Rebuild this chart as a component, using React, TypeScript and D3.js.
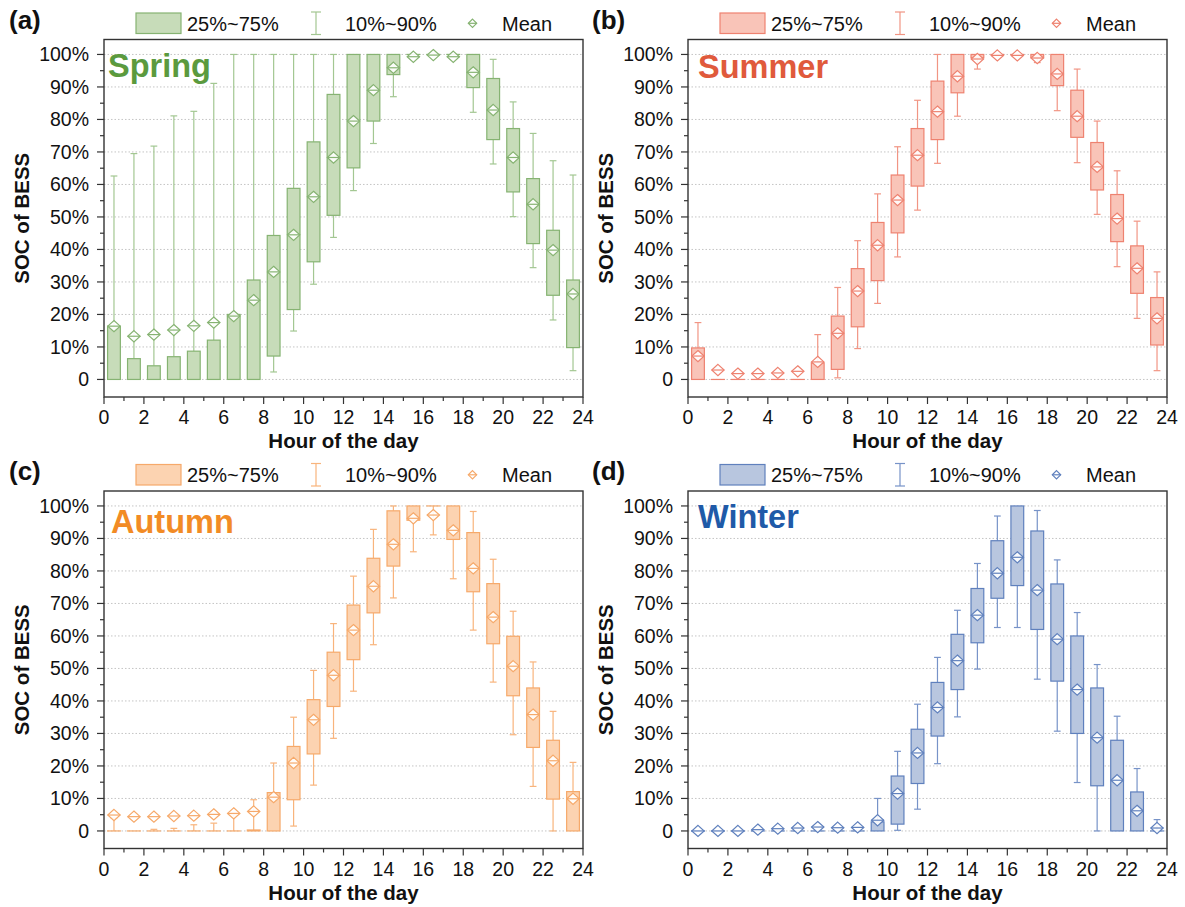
import React from "react";
import * as d3 from "d3";

// Hour-of-day bin centres
const hours = [0.5, 1.5, 2.5, 3.5, 4.5, 5.5, 6.5, 7.5, 8.5, 9.5, 10.5, 11.5, 12.5, 13.5, 14.5, 15.5, 16.5, 17.5, 18.5, 19.5, 20.5, 21.5, 22.5, 23.5];

const yTicks = [0, 10, 20, 30, 40, 50, 60, 70, 80, 90, 100];
const xTicks = [0, 2, 4, 6, 8, 10, 12, 14, 16, 18, 20, 22, 24];

// Spring SOC statistics (%)
const springP10 = [0, 0, 0, 0, 0, 0, 0, 0, 2.3, 14.9, 29.3, 43.7, 58.1, 72.6, 87.0, 100, 100, 100, 82.2, 66.3, 50.1, 34.4, 18.3, 2.7];
const springQ1 = [0, 0, 0, 0, 0, 0, 0, 0, 7.2, 21.5, 36.2, 50.5, 65.1, 79.5, 93.8, 100, 100, 100, 89.8, 73.8, 57.7, 41.8, 25.9, 9.8];
const springQ3 = [16.4, 6.4, 4.2, 7.0, 8.7, 12.1, 20.0, 30.6, 44.3, 58.8, 73.1, 87.7, 100, 100, 100, 100, 100, 100, 100, 92.6, 77.2, 61.8, 45.9, 30.6];
const springP90 = [62.6, 69.5, 71.8, 81.1, 82.5, 91.1, 100, 100, 100, 100, 100, 100, 100, 100, 100, 100, 100, 100, 100, 98.5, 85.4, 75.7, 67.3, 62.9];
const springMean = [16.4, 13.3, 13.8, 15.2, 16.5, 17.5, 19.5, 24.4, 33.1, 44.5, 56.2, 68.3, 79.5, 89.0, 95.9, 99.3, 99.8, 99.3, 94.5, 82.9, 68.3, 53.9, 39.8, 26.3];

// Summer SOC statistics (%)
const summerP10 = [0, 0, 0, 0, 0, 0, 0, 0.5, 9.5, 23.4, 37.7, 52.1, 66.5, 81.0, 95.5, 100, 100, 97.5, 82.7, 66.7, 50.8, 34.7, 18.8, 2.7];
const summerQ1 = [0, 0, 0, 0, 0, 0, 0, 3.1, 16.2, 30.4, 45.1, 59.5, 73.8, 88.2, 99.0, 100, 100, 99.0, 90.4, 74.5, 58.3, 42.4, 26.5, 10.6];
const summerQ3 = [9.7, 0, 0, 0, 0, 0, 5.1, 19.5, 34.1, 48.3, 62.9, 77.2, 91.8, 100, 100, 100, 100, 100, 100, 89.0, 72.9, 56.9, 41.1, 25.2];
const summerP90 = [17.5, 0, 0, 0, 0, 0, 13.8, 28.3, 42.7, 57.1, 71.6, 85.9, 100, 100, 100, 100, 100, 100, 100, 95.5, 79.5, 64.2, 48.7, 33.1];
const summerMean = [7.2, 2.9, 1.8, 1.8, 2.0, 2.5, 5.4, 14.2, 27.2, 41.3, 55.2, 69.0, 82.4, 93.3, 98.6, 99.7, 99.7, 98.9, 94.0, 81.0, 65.4, 49.5, 34.2, 18.8];

// Autumn SOC statistics (%)
const autumnP10 = [0, 0, 0, 0, 0, 0, 0, 0, 0, 1.5, 14.1, 28.5, 43.0, 57.3, 71.7, 85.9, 91.1, 77.6, 61.8, 45.8, 29.6, 13.7, 0, 0];
const autumnQ1 = [0, 0, 0, 0, 0, 0, 0, 0, 0, 9.6, 23.7, 38.3, 52.7, 67.1, 81.5, 95.6, 100, 89.7, 73.6, 57.6, 41.6, 25.7, 9.8, 0];
const autumnQ3 = [0, 0, 0, 0, 0, 0, 0, 0.3, 11.8, 26.0, 40.4, 55.0, 69.5, 83.9, 98.5, 100, 100, 100, 91.8, 76.1, 59.9, 44.0, 27.9, 12.1];
const autumnP90 = [4.0, 0, 0.5, 0.8, 1.9, 2.4, 5.0, 9.6, 20.9, 35.0, 49.4, 63.8, 78.4, 92.8, 100, 100, 100, 100, 98.3, 83.6, 67.6, 52.0, 36.8, 21.1];
const autumnMean = [4.9, 4.4, 4.4, 4.6, 4.7, 5.1, 5.4, 6.0, 10.4, 20.9, 34.2, 47.9, 61.8, 75.3, 88.2, 96.2, 97.2, 92.5, 80.8, 65.8, 50.7, 35.8, 21.6, 9.9];

// Winter SOC statistics (%)
const winterP10 = [0, 0, 0, 0, 0, 0, 0, 0, 0, 0, 0.2, 6.7, 20.7, 35.1, 49.8, 62.6, 62.6, 46.7, 30.7, 14.9, 0, 0, 0, 0];
const winterQ1 = [0, 0, 0, 0, 0, 0, 0, 0, 0, 0, 2.1, 14.6, 29.2, 43.5, 57.9, 71.6, 75.5, 62.0, 46.1, 30.0, 13.9, 0, 0, 0];
const winterQ3 = [0, 0, 0, 0, 0, 0, 0, 0, 0, 2.8, 16.9, 31.3, 45.7, 60.5, 74.6, 89.3, 100, 92.3, 76.0, 60.0, 44.0, 27.9, 12.0, 0];
const winterP90 = [0, 0, 0, 0, 0, 0, 0, 0, 0, 10.0, 24.5, 39.0, 53.4, 67.9, 82.3, 96.9, 100, 98.6, 83.4, 67.2, 51.2, 35.3, 19.2, 3.5];
const winterMean = [0, 0, 0, 0.4, 0.7, 0.9, 1.2, 1.0, 1.1, 3.3, 11.5, 24.0, 38.0, 52.4, 66.4, 79.3, 84.2, 74.1, 59.0, 43.5, 28.7, 15.6, 6.2, 0.9];

const seasonNames = ["Spring", "Summer", "Autumn", "Winter"];
const panelTags = ["(a)", "(b)", "(c)", "(d)"];

const FONT = "'Liberation Sans', Arial, Helvetica, sans-serif";

type Stats = { p10: number[]; q1: number[]; q3: number[]; p90: number[]; mean: number[] };
type Theme = { title: string; fill: string; stroke: string; whisker: string };

const seasonStats: Stats[] = [
  { p10: springP10, q1: springQ1, q3: springQ3, p90: springP90, mean: springMean },
  { p10: summerP10, q1: summerQ1, q3: summerQ3, p90: summerP90, mean: summerMean },
  { p10: autumnP10, q1: autumnQ1, q3: autumnQ3, p90: autumnP90, mean: autumnMean },
  { p10: winterP10, q1: winterQ1, q3: winterQ3, p90: winterP90, mean: winterMean },
];

const themes: Theme[] = [
  { title: "#5b9a3e", fill: "#c7dcb9", stroke: "#86b372", whisker: "#a3c792" },
  { title: "#e05a3c", fill: "#f9c4b8", stroke: "#ee8270", whisker: "#f19584" },
  { title: "#f28b25", fill: "#fcd3b1", stroke: "#f6a96a", whisker: "#f8b47c" },
  { title: "#1f5aa8", fill: "#b8c6df", stroke: "#5f80bd", whisker: "#7793c8" },
];

// Panel placement: plot-area left/top plus per-panel text offsets
const panelLayout = [
  { left: 104, top: 39.5, tagX: 9, tagY: 29, seasonX: 108, seasonY: 77 },
  { left: 688, top: 39.5, tagX: 592, tagY: 29, seasonX: 698, seasonY: 78 },
  { left: 104, top: 491, tagX: 9, tagY: 480, seasonX: 111, seasonY: 533 },
  { left: 688, top: 491, tagX: 592, tagY: 480, seasonX: 698, seasonY: 528 },
];

const PW = 479;
const PH = 357.5;

function Diamond({ x, y, color, w = 6.2, h = 5.6 }: { x: number; y: number; color: string; w?: number; h?: number }) {
  return (
    <g transform={`translate(${x},${y})`}>
      <path d={`M0,${-h}L${w},0L0,${h}L${-w},0Z`} fill="#fff" fillOpacity={0.9} stroke={color} strokeWidth={1.2} />
      <line x1={-w} x2={w} y1={0} y2={0} stroke={color} strokeWidth={1.2} />
    </g>
  );
}

function Panel({ idx }: { idx: number }) {
  const L = panelLayout[idx];
  const s = seasonStats[idx];
  const t = themes[idx];
  const x = d3.scaleLinear().domain([0, 24]).range([L.left, L.left + PW]);
  const y = d3.scaleLinear().domain([-5.4, 104.6]).range([L.top + PH, L.top]);
  const bottom = L.top + PH;
  const boxW = (x(1) - x(0)) * 0.64;
  const capW = (x(1) - x(0)) * 0.34;
  const minorY = d3.range(0, 105, 5).filter((v) => v % 10 !== 0);
  const minorX = d3.range(1, 24, 2);
  const legendTop = L.top - 26.5;

  return (
    <g fontFamily={FONT}>
      {/* grid */}
      {yTicks.map((v) => (
        <line key={`g${v}`} x1={L.left} x2={L.left + PW} y1={y(v)} y2={y(v)} stroke="#c4c4c4" strokeWidth={1} strokeDasharray="1.5,2" />
      ))}
      {/* boxes and whiskers */}
      {hours.map((h, i) => {
        const cx = x(h);
        return (
          <g key={`b${i}`}>
            <line x1={cx} x2={cx} y1={y(s.q3[i])} y2={y(s.p90[i])} stroke={t.whisker} strokeWidth={1.2} />
            <line x1={cx} x2={cx} y1={y(s.p10[i])} y2={y(s.q1[i])} stroke={t.whisker} strokeWidth={1.2} />
            {s.p90[i] > s.q3[i] && (
              <line x1={cx - capW / 2} x2={cx + capW / 2} y1={y(s.p90[i])} y2={y(s.p90[i])} stroke={t.whisker} strokeWidth={1.2} />
            )}
            {s.p10[i] < s.q1[i] && (
              <line x1={cx - capW / 2} x2={cx + capW / 2} y1={y(s.p10[i])} y2={y(s.p10[i])} stroke={t.whisker} strokeWidth={1.2} />
            )}
            <rect
              x={cx - boxW / 2}
              y={y(s.q3[i])}
              width={boxW}
              height={Math.max(0.01, y(s.q1[i]) - y(s.q3[i]))}
              fill={t.fill}
              stroke={t.stroke}
              strokeWidth={1.2}
            />
          </g>
        );
      })}
      {hours.map((h, i) => (
        <Diamond key={`m${i}`} x={x(h)} y={y(s.mean[i])} color={t.stroke} />
      ))}
      {/* frame */}
      <rect x={L.left} y={L.top} width={PW} height={PH} fill="none" stroke="#333" strokeWidth={1.4} />
      {/* y ticks */}
      {yTicks.map((v) => (
        <g key={`yt${v}`}>
          <line x1={L.left - 7} x2={L.left} y1={y(v)} y2={y(v)} stroke="#333" strokeWidth={1.2} />
          <text x={L.left - 15} y={y(v)} dy="0.36em" textAnchor="end" fontSize={19.5} fill="#111">
            {v === 0 ? "0" : `${v}%`}
          </text>
        </g>
      ))}
      {minorY.map((v) => (
        <line key={`ym${v}`} x1={L.left - 4} x2={L.left} y1={y(v)} y2={y(v)} stroke="#333" strokeWidth={1.2} />
      ))}
      {/* x ticks */}
      {xTicks.map((v) => (
        <g key={`xt${v}`}>
          <line x1={x(v)} x2={x(v)} y1={bottom} y2={bottom + 7} stroke="#333" strokeWidth={1.2} />
          <text x={x(v)} y={bottom + 27} textAnchor="middle" fontSize={19.5} fill="#111">
            {v}
          </text>
        </g>
      ))}
      {minorX.map((v) => (
        <line key={`xm${v}`} x1={x(v)} x2={x(v)} y1={bottom} y2={bottom + 4} stroke="#333" strokeWidth={1.2} />
      ))}
      {/* axis titles */}
      <text x={L.left + PW / 2} y={bottom + 51} textAnchor="middle" fontSize={20.5} fontWeight="bold" fill="#111">
        Hour of the day
      </text>
      <text
        transform={`translate(${L.left - 82},${L.top + PH / 2}) rotate(-90)`}
        textAnchor="middle"
        dy="0.36em"
        fontSize={20.5}
        fontWeight="bold"
        fill="#111"
      >
        SOC of BESS
      </text>
      {/* season name */}
      <text x={L.seasonX} y={L.seasonY} fontSize={32.5} fontWeight="bold" fill={t.title}>
        {seasonNames[idx]}
      </text>
      {/* panel tag */}
      <text x={L.tagX} y={L.tagY} fontSize={26} fontWeight="bold" fill="#111">
        {panelTags[idx]}
      </text>
      {/* legend */}
      <g>
        <rect x={L.left + 32} y={legendTop} width={45} height={20.5} fill={t.fill} stroke={t.stroke} strokeWidth={1.2} />
        <text x={L.left + 83} y={legendTop + 17.5} fontSize={20} fill="#111">
          25%~75%
        </text>
        <line x1={L.left + 212} x2={L.left + 212} y1={legendTop - 1} y2={legendTop + 21.5} stroke={t.whisker} strokeWidth={1.2} />
        <line x1={L.left + 207} x2={L.left + 217} y1={legendTop - 1} y2={legendTop - 1} stroke={t.whisker} strokeWidth={1.2} />
        <line x1={L.left + 207} x2={L.left + 217} y1={legendTop + 21.5} y2={legendTop + 21.5} stroke={t.whisker} strokeWidth={1.2} />
        <text x={L.left + 241} y={legendTop + 17.5} fontSize={20} fill="#111">
          10%~90%
        </text>
        <Diamond x={L.left + 368.5} y={legendTop + 10.3} color={t.stroke} w={4.2} h={4.2} />
        <text x={L.left + 398} y={legendTop + 17.5} fontSize={20} fill="#111">
          Mean
        </text>
      </g>
    </g>
  );
}

export default function App() {
  return (
    <div style={{ position: "absolute", left: 0, top: 0 }}>
      <svg width={1185} height={907} viewBox="0 0 1185 907" style={{ display: "block", background: "#fff" }}>
        {[0, 1, 2, 3].map((i) => (
          <Panel key={i} idx={i} />
        ))}
      </svg>
    </div>
  );
}
